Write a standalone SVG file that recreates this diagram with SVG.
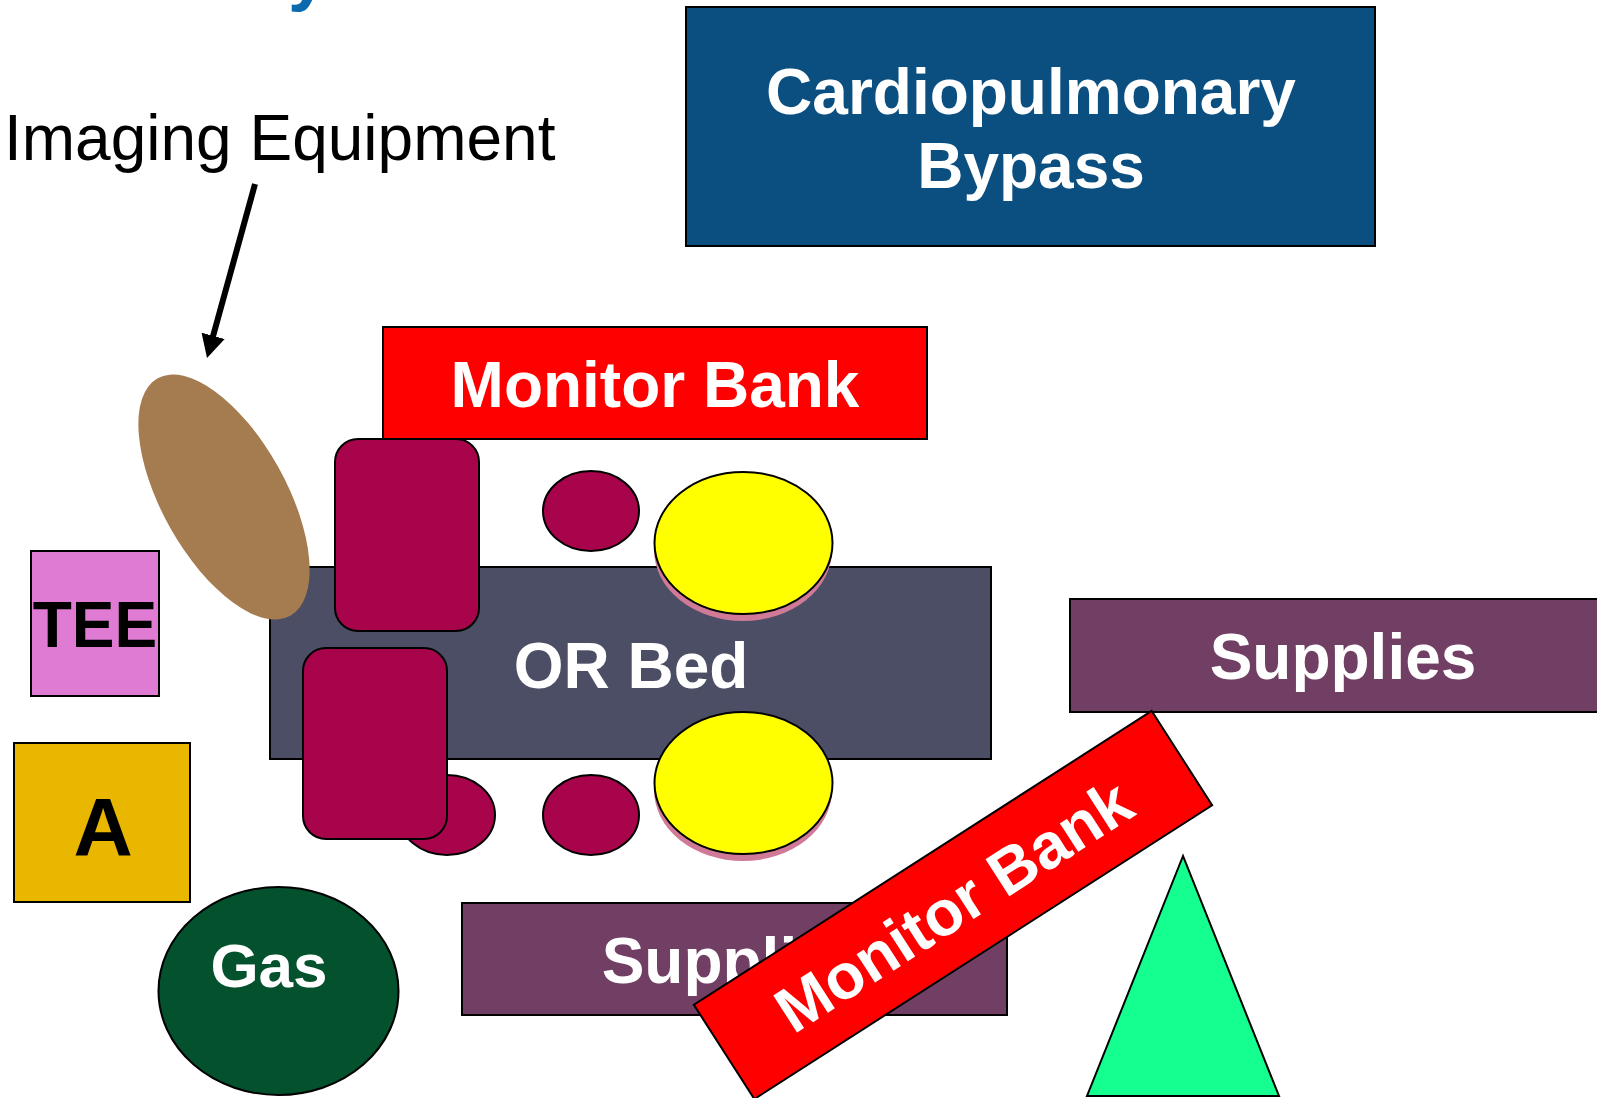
<svg xmlns="http://www.w3.org/2000/svg" width="1597" height="1098" viewBox="0 0 1597 1098">
<style>
  .lbl { font-family: "Liberation Sans", Arial, sans-serif; font-weight: bold; font-size: 64px; fill: #ffffff; text-anchor: middle; }
  .dark { fill: #000000; }
  .box { stroke: #000000; stroke-width: 2; }
  .mag { fill: #A8044C; stroke: #000000; stroke-width: 2; }
  .yel { fill: #FFFF00; stroke: #000000; stroke-width: 2; }
  .shadow { fill: #D07A98; }
</style>
<defs>
  <marker id="ah" markerUnits="userSpaceOnUse" markerWidth="23" markerHeight="24" viewBox="0 0 23 24" refX="2" refY="12" orient="auto">
    <path d="M0,0 L23,12 L0,24 z" fill="#000000"/>
  </marker>
</defs>
<rect width="1597" height="1098" fill="#ffffff"/>

<g id="title-fragment">
  <text x="288" y="-3" style="font-family: 'Liberation Sans', Arial, sans-serif; font-weight: bold; font-size: 72px; fill: #0A6AAD;">y</text>
</g>

<g id="cardiopulmonary-bypass">
  <rect class="box" x="686" y="7" width="689" height="239" fill="#0B4F80"/>
  <text class="lbl" x="1031" y="114">Cardiopulmonary</text>
  <text class="lbl" x="1031" y="188">Bypass</text>
</g>

<g id="imaging-label">
  <text x="4" y="160" style="font-family: 'Liberation Sans', Arial, sans-serif; font-size: 64px; fill: #000000;">Imaging Equipment</text>
</g>

<g id="monitor-bank-top">
  <rect class="box" x="383" y="327" width="544" height="112" fill="#FF0000"/>
  <text class="lbl" x="655" y="407">Monitor Bank</text>
</g>

<g id="or-bed">
  <rect class="box" x="270" y="567" width="721" height="192" fill="#4B4E64"/>
  <text class="lbl" x="631" y="688">OR Bed</text>
</g>

<g id="imaging-equipment">
  <ellipse cx="224" cy="497" rx="62" ry="136" transform="rotate(-29.2 224 497)" fill="#A57B50"/>
</g>

<g id="chair-top">
  <rect class="mag" x="335" y="439" width="144" height="192" rx="23" ry="23"/>
</g>

<g id="stool-top">
  <ellipse class="mag" cx="591" cy="511" rx="48" ry="40"/>
</g>

<g id="light-top">
  <ellipse class="shadow" cx="743" cy="550" rx="89" ry="71"/>
  <ellipse class="yel" cx="743.5" cy="543" rx="89" ry="71"/>
</g>

<g id="light-bottom">
  <ellipse class="shadow" cx="743" cy="790" rx="89" ry="71"/>
  <ellipse class="yel" cx="743.5" cy="783" rx="89" ry="71"/>
</g>

<g id="stool-bottom-left">
  <ellipse class="mag" cx="447" cy="815" rx="48" ry="40"/>
</g>

<g id="stool-bottom-right">
  <ellipse class="mag" cx="591" cy="815" rx="48" ry="40"/>
</g>

<g id="chair-bottom">
  <rect class="mag" x="303" y="648" width="144" height="191" rx="23" ry="23"/>
</g>

<g id="tee">
  <rect class="box" x="31" y="551" width="128" height="145" fill="#DF7BD3"/>
  <text class="lbl dark" x="95" y="647">TEE</text>
</g>

<g id="anesthesia">
  <rect class="box" x="14" y="743" width="176" height="159" fill="#E9B600"/>
  <text class="lbl dark" x="103" y="855" style="font-size: 82px;">A</text>
</g>

<g id="gas">
  <ellipse class="box" cx="278.5" cy="991" rx="120" ry="104" fill="#03512D"/>
  <text class="lbl" x="269" y="987" style="font-size: 62px;">Gas</text>
</g>

<g id="supplies-right">
  <rect class="box" x="1070" y="599" width="547" height="113" fill="#713F63"/>
  <text class="lbl" x="1343" y="679">Supplies</text>
</g>

<g id="supplies-bottom">
  <rect class="box" x="462" y="903" width="545" height="112" fill="#713F63"/>
  <text class="lbl" x="735" y="983">Supplies</text>
</g>

<g id="monitor-bank-rotated" transform="translate(953 905) rotate(-32.7)">
  <rect class="box" x="-272" y="-56" width="544" height="112" fill="#FF0000"/>
  <text class="lbl" x="0" y="23">Monitor Bank</text>
</g>

<g id="triangle">
  <polygon class="box" points="1183,856 1087,1096 1279,1096" fill="#14FF90"/>
</g>

<g id="connectors">
  <line x1="255" y1="184" x2="212.6" y2="337.8" stroke="#000000" stroke-width="6" marker-end="url(#ah)"/>
</g>
</svg>
